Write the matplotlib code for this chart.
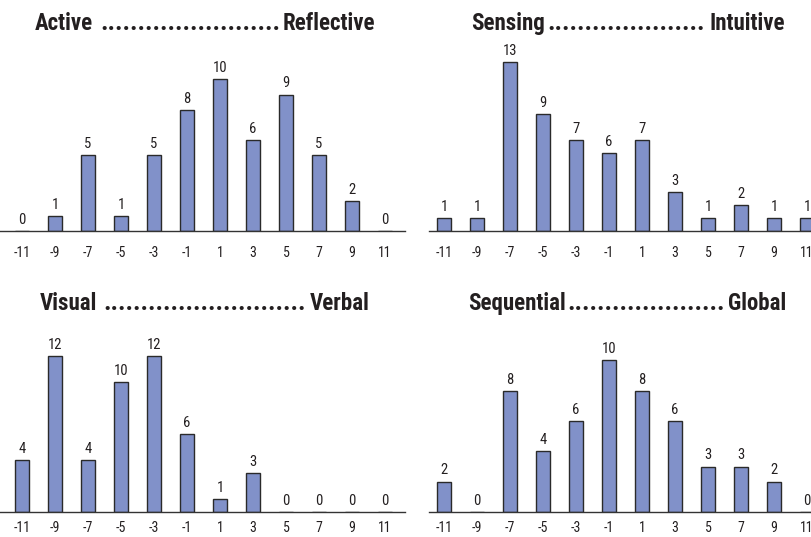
import numpy as np
import matplotlib
matplotlib.use('Agg')
import matplotlib.pyplot as plt
from matplotlib import font_manager as fm

# learning style scores (odd values -11..11) and counts per panel
scores = [-11, -9, -7, -5, -3, -1, 1, 3, 5, 7, 9, 11]

active_reflective = [0, 1, 5, 1, 5, 8, 10, 6, 9, 5, 2, 0]
sensing_intuitive = [1, 1, 13, 9, 7, 6, 7, 3, 1, 2, 1, 1]
visual_verbal = [4, 12, 4, 10, 12, 6, 1, 3, 0, 0, 0, 0]
sequential_global = [2, 0, 8, 4, 6, 10, 8, 6, 3, 3, 2, 0]

left_words = ['Active', 'Sensing', 'Visual', 'Sequential']
right_words = ['Reflective', 'Intuitive', 'Verbal', 'Global']
n_dots = [24, 21, 27, 21]

# pick a condensed face if one is around
installed = set(f.name for f in fm.fontManager.ttflist)
prefs = ['Roboto Condensed', 'Liberation Sans Narrow', 'Arial Narrow',
         'IBM Plex Sans Condensed', 'Open Sans Condensed', 'PT Sans Narrow',
         'Archivo Narrow']
fam = [p for p in prefs if p in installed][:1] + ['DejaVu Sans']
plt.rcParams['font.family'] = fam

W, H = 812, 537
fig = plt.figure(figsize=(W / 100, H / 100), dpi=100)

bar_col = '#8191c9'
txt_col = '#231f20'
px_unit = 16.5   # pixels per score unit

# (left px, baseline px, xmin, tick pad)
panels = [(0, 231, -12.33, 11),
          (429, 231, -11.91, 11),
          (0, 512, -12.33, 6.5),
          (429, 512, -11.91, 6.5)]
# title layout in px: (end of left word, centre of dots, start of right word, baseline)
title_pos = [(93, 190, 283, 30),
             (545, 626, 710, 30),
             (97, 205, 310, 310),
             (566, 646, 728, 310)]
data = [active_reflective, sensing_intuitive, visual_verbal, sequential_global]

ax_w = 405
ax_h = 182

for i, vals in enumerate(data):
    left, base, x0, pad = panels[i]
    ax = fig.add_axes([left / W, 1 - base / H, ax_w / W, ax_h / H])
    ax.bar(scores, vals, width=0.8, color=bar_col, edgecolor='#2a2a2a',
           linewidth=1.0, zorder=2)
    ymax = 2 * (max(vals) // 2 + 1)
    ax.set_ylim(0, ymax)
    ax.set_xlim(x0, x0 + ax_w / px_unit)
    for s, v in zip(scores, vals):
        ax.annotate(str(v), (s, v), xytext=(0, 3), textcoords='offset points',
                    ha='center', va='bottom', fontsize=10.5, color=txt_col)
    for sp in ['top', 'right', 'left']:
        ax.spines[sp].set_visible(False)
    ax.spines['bottom'].set_color('#333333')
    ax.spines['bottom'].set_linewidth(1.0)
    ax.set_yticks([])
    ax.set_xticks(scores)
    ax.set_xticklabels([str(s) for s in scores])
    ax.tick_params(axis='x', length=0, pad=pad, labelsize=10, labelcolor=txt_col)

    le, dc, rs, bl = title_pos[i]
    y = 1 - bl / H
    fig.text(le / W, y, left_words[i], ha='right', va='baseline',
             fontsize=16.5, fontweight='bold', color=txt_col)
    fig.text(dc / W, y, '.' * n_dots[i], ha='center', va='baseline',
             fontsize=18.5, fontweight='bold', color=txt_col)
    fig.text(rs / W, y, right_words[i], ha='left', va='baseline',
             fontsize=16.5, fontweight='bold', color=txt_col)

fig.savefig('out.png', dpi=100)
